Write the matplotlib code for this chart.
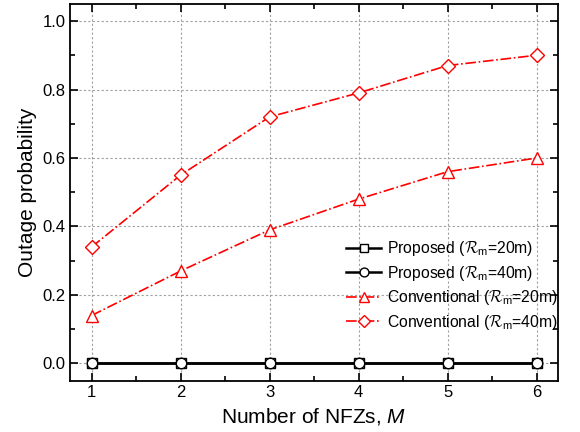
import matplotlib
matplotlib.use("Agg")
import matplotlib.pyplot as plt
from matplotlib.ticker import MultipleLocator

plt.rcParams["font.family"] = ["Liberation Sans", "DejaVu Sans"]
plt.rcParams["mathtext.fontset"] = "custom"
plt.rcParams["mathtext.rm"] = "Liberation Sans"
plt.rcParams["mathtext.it"] = "Liberation Sans:italic"
plt.rcParams["mathtext.cal"] = "cmsy10"

nfz = [1, 2, 3, 4, 5, 6]
proposed_20 = [0.0, 0.0, 0.0, 0.0, 0.0, 0.0]
proposed_40 = [0.0, 0.0, 0.0, 0.0, 0.0, 0.0]
conv_20 = [0.14, 0.27, 0.39, 0.48, 0.56, 0.60]
conv_40 = [0.34, 0.55, 0.72, 0.79, 0.87, 0.90]

fig = plt.figure(figsize=(5.8, 4.32), dpi=100)
ax = fig.add_axes([0.121, 0.119, 0.841, 0.872])

mk = dict(markersize=7.5, markerfacecolor="white", markeredgewidth=1.0)
ax.plot(nfz, proposed_20, "-", color="black", lw=1.8, marker="s", label=r"Proposed ($\mathcal{R}_{\rm m}$=20m)", **mk)
ax.plot(nfz, proposed_40, "-", color="black", lw=1.8, marker="o", label=r"Proposed ($\mathcal{R}_{\rm m}$=40m)", **mk)
ax.plot(nfz, conv_20, "-.", color="red", lw=1.2, marker="^", markeredgecolor="red",
        label=r"Conventional ($\mathcal{R}_{\rm m}$=20m)", markersize=9,
        markerfacecolor="white", markeredgewidth=1.0)
ax.plot(nfz, conv_40, "-.", color="red", lw=1.2, marker="D", markeredgecolor="red",
        label=r"Conventional ($\mathcal{R}_{\rm m}$=40m)", markersize=7.5,
        markerfacecolor="white", markeredgewidth=1.0)

ax.set_xlim(0.76, 6.24)
ax.set_ylim(-0.05, 1.05)
ax.xaxis.set_major_locator(MultipleLocator(1))
ax.xaxis.set_minor_locator(MultipleLocator(0.5))
ax.yaxis.set_major_locator(MultipleLocator(0.2))
ax.yaxis.set_minor_locator(MultipleLocator(0.1))
ax.yaxis.set_major_formatter(plt.FormatStrFormatter("%.1f"))
ax.tick_params(which="both", direction="in", top=True, right=True, labelsize=12, width=1.2)
ax.tick_params(which="major", length=6)
ax.tick_params(which="minor", length=3.5)
ax.grid(True, which="major", color="#a0a0a0", ls=(0, (2, 2)), lw=0.8)
for s in ax.spines.values():
    s.set_linewidth(1.3)

ax.set_xlabel(r"Number of NFZs, $\it{M}$", fontsize=15)
ax.set_ylabel("Outage probability", fontsize=15)

ax.legend(loc="lower right", bbox_to_anchor=(1.0, 0.13), frameon=False, fontsize=11.3,
          handlelength=2.2, handletextpad=0.4, labelspacing=0.35, borderaxespad=0,
          borderpad=0, markerscale=0.85)

fig.savefig("out.png", dpi=100)
